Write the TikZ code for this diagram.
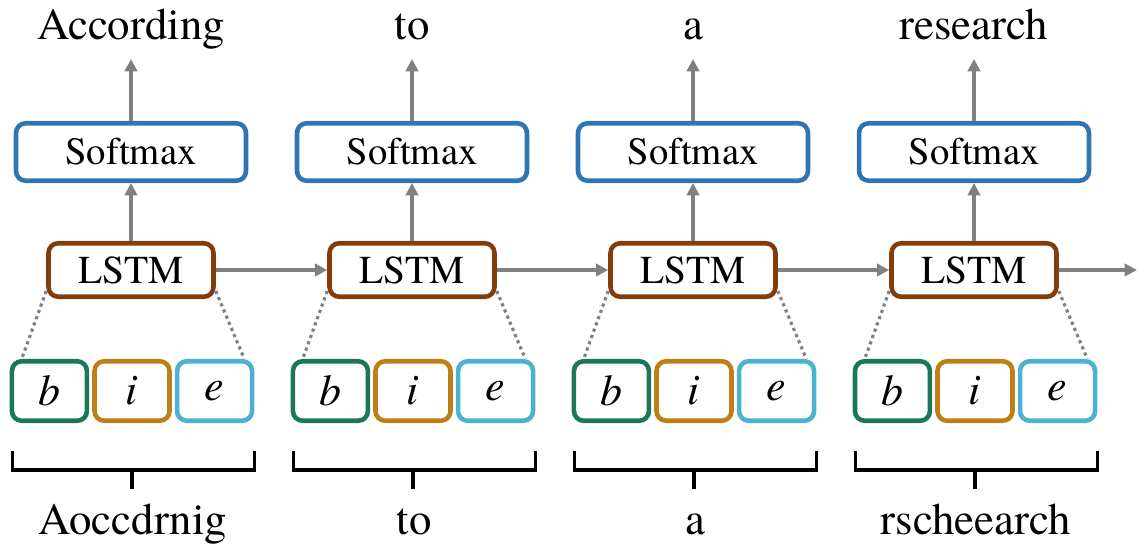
\documentclass[tikz,border=0pt]{standalone}
\usepackage{fontspec}
\setmainfont{texgyretermes}[Extension=.otf, UprightFont=*-regular, ItalicFont=*-italic, BoldFont=*-bold]
\usetikzlibrary{arrows.meta,calc}

\definecolor{smblue}{RGB}{46,117,182}
\definecolor{lstmbrown}{RGB}{132,60,12}
\definecolor{bgreen}{RGB}{28,118,92}
\definecolor{igold}{RGB}{190,128,22}
\definecolor{ecyan}{RGB}{76,178,210}
\definecolor{arrgray}{RGB}{128,128,128}

\tikzset{
  box/.style={draw, line width=2.6pt, rounded corners=5.5pt, fill=white, inner sep=0pt},
  smbox/.style={box, draw=smblue, minimum width=4.6cm, minimum height=1.15cm, font=\rmfamily\fontsize{22}{24}\selectfont},
  lstmbox/.style={box, draw=lstmbrown, minimum width=3.3cm, minimum height=1.07cm, font=\rmfamily\fontsize{22.5}{24}\selectfont},
  charbox/.style={box, minimum width=1.5cm, minimum height=1.19cm, font=\rmfamily\fontsize{25}{26}\selectfont\itshape},
  word/.style={font=\rmfamily\fontsize{25.5}{28}\selectfont, inner sep=0pt},
  flow/.style={draw=arrgray, line width=1.8pt, -{Triangle[length=7pt,width=7pt]}},
  link/.style={draw=arrgray, line width=1.8pt, dash pattern=on 1.8pt off 2pt},
  brace/.style={draw=black, line width=1.8pt}
}

\begin{document}
\begin{tikzpicture}[x=0.02cm, y=-0.02cm]

	\useasboundingbox (0,0) rectangle (1138,551);

	\foreach \k/\x/\outw/\inw in {1/131/According/Aoccdrnig, 2/412/to/to, 3/693/a/a, 4/974/research/rscheearch}{
	    \node[word] (out\k) at (\x, 30) {\strut\outw};
	    \node[smbox] (sm\k) at (\x, 152) {Softmax};
	    \node[lstmbox] (lstm\k) at (\x, 270) {LSTM};
	    \node[charbox, draw=igold] (i\k) at (\x+1, 391) {i};
	    \node[charbox, draw=bgreen, anchor=east] (b\k) at ($(i\k.west)+(-3,0)$) {b};
	    \node[charbox, draw=ecyan, anchor=west] (e\k) at ($(i\k.east)+(3,0)$) {e};
	    \node[word] (in\k) at (\x+2, 525) {\strut\inw};

	    \draw[flow] (lstm\k) -- (sm\k);
	    \draw[flow] (sm\k) -- ($(sm\k.north)+(0,-62)$);
	    \draw[link] ($(lstm\k.south west)+(0,-8)$) -- ($(b\k.north west)+(12,0)$);
	    \draw[link] ($(lstm\k.south east)+(0,-8)$) -- ($(e\k.north east)+(-10,0)$);

	    % brace under the three boxes
	    \draw[brace] ($(b\k.south west)+(3,28)$) -- ($(b\k.south west)+(3,47)$)
	        -- ($(e\k.south east)+(0,47)$) -- ($(e\k.south east)+(0,28)$);
	    \draw[brace] ($(i\k.south)+(0,47)$) -- ($(i\k.south)+(0,66)$);
	}

	\draw[flow] (lstm1) -- (lstm2);
	\draw[flow] (lstm2) -- (lstm3);
	\draw[flow] (lstm3) -- (lstm4);
	\coordinate (end) at (1137, 270);
	\draw[flow] (lstm4) -- (end);

\end{tikzpicture}
\end{document}
